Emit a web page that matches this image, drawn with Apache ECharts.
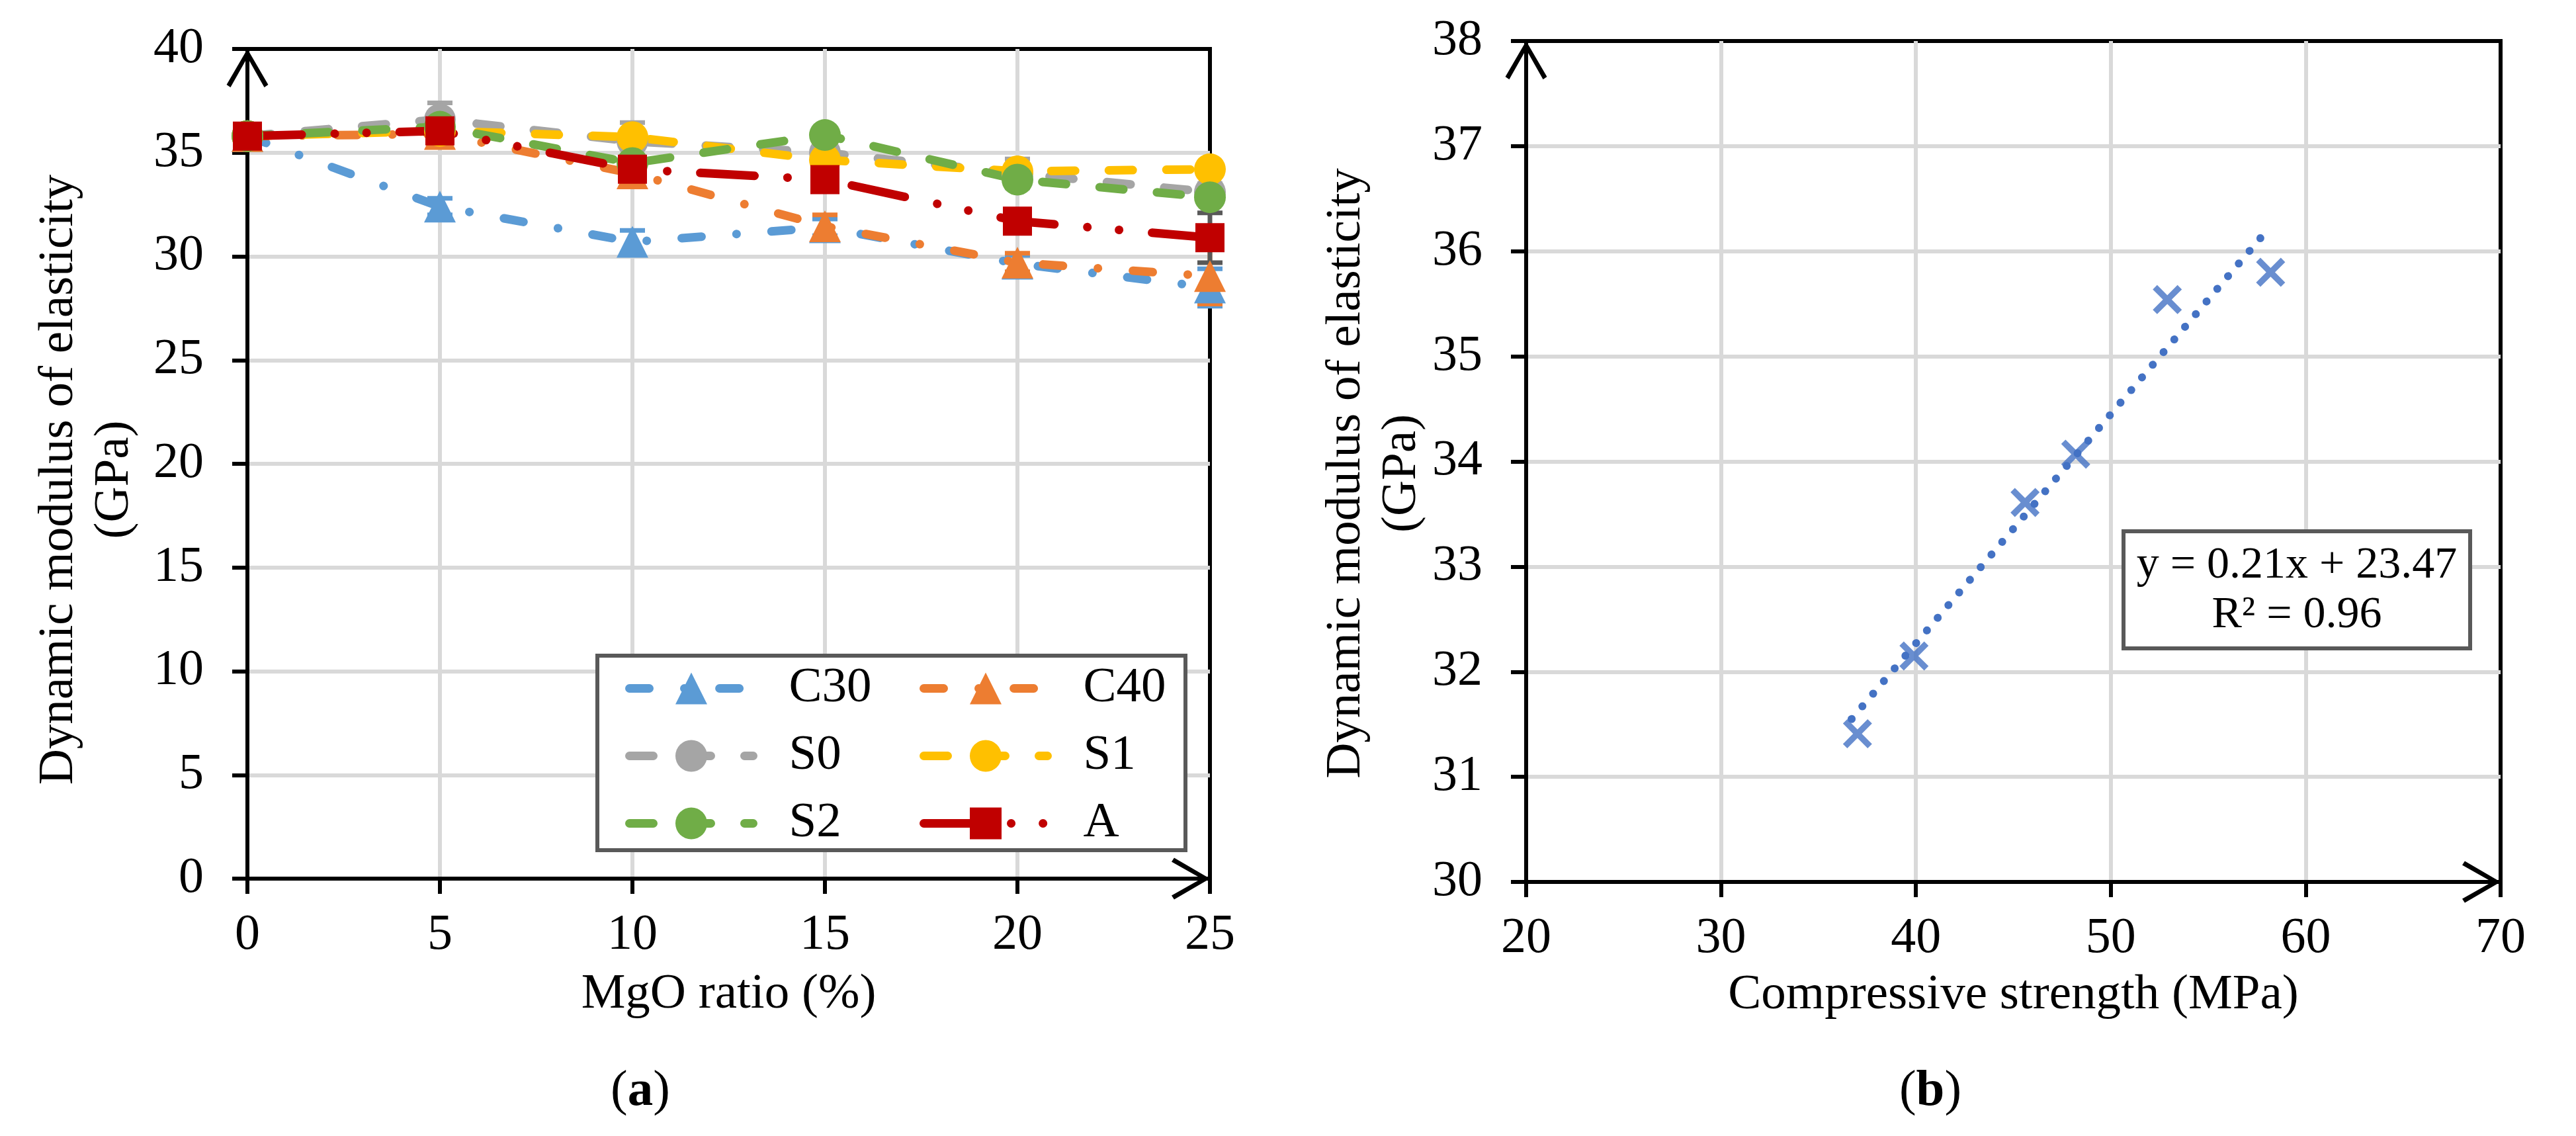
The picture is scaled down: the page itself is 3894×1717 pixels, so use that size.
<!DOCTYPE html>
<html>
<head>
<meta charset="utf-8">
<title>Dynamic modulus of elasticity</title>
<script src="https://cdn.jsdelivr.net/npm/echarts@6/dist/echarts.min.js"></script>
<style>
	html, body { margin: 0; padding: 0; background: #fff; }
	#chart { width: 3894px; height: 1717px; }
</style>
</head>
<body>
<div id="chart"></div>
<script>
// (a) dynamic modulus vs MgO ratio
const mgoRatio = [ 0, 5, 10, 15, 20, 25 ];
const seriesNames = [ 'C30', 'C40', 'S0', 'S1', 'S2', 'A' ];
const c30 = [ 35.8, 32.4, 30.7, 31.4, 29.65, 28.5 ];
const c40 = [ 35.8, 35.9, 34.0, 31.45, 29.7, 29.05 ];
const s0 = [ 35.8, 36.6, 35.55, 35.0, 34.0, 33.1 ];
const s1 = [ 35.8, 36.05, 35.75, 34.65, 34.1, 34.2 ];
const s2 = [ 35.8, 36.25, 34.5, 35.85, 33.7, 32.85 ];
const a = [ 35.8, 36.05, 34.2, 33.7, 31.7, 30.9 ];
// half length of the error bars
const c30Err = [ 0.3, 0.4, 0.55, 0.4, 0.4, 0.9 ];
const c40Err = [ 0.3, 0.3, 0.3, 0.55, 0.45, 1.35 ];
const s0Err = [ 0.3, 0.8, 0.9, 0.5, 0.7, 0.4 ];
const s1Err = [ 0.3, 0.3, 0.3, 0.3, 0.3, 0.3 ];
const s2Err = [ 0.3, 0.3, 0.3, 0.3, 0.3, 0.3 ];
const aErr = [ 0.3, 0.3, 0.3, 0.3, 0.3, 1.2 ];
// legend columns, read top to bottom
const legendLeftCol = [ 'C30', 'S0', 'S2' ];
const legendRightCol = [ 'C40', 'S1', 'A' ];

// (b) dynamic modulus vs compressive strength
const strength = [ 37.0, 39.9, 45.6, 48.2, 52.9, 58.2 ];
const modulus = [ 31.41, 32.15, 33.61, 34.07, 35.54, 35.80 ];
const trendX = [ 36.7, 57.7 ];
const trendY = [ 31.55, 36.13 ];
const trendLabel = 'y = 0.21x + 23.47\nR² = 0.96';

const FONT = '"Liberation Serif", "Times New Roman", serif';
const ARROW = 'path://M32,0 L64,55 L58,59 L32,13 L6,59 L0,55 Z';
const CROSS = 'path://M0,6 L6,0 L20,14 L34,0 L40,6 L26,20 L40,34 L34,40 L20,26 L6,40 L0,34 L14,20 Z';

const figure = {
	chart: null,
	lineDefs: [
		{ values: c30, err: c30Err, color: '#5B9BD5', errColor: '#5B9BD5', symbol: 'triangle', size: 48, dash: [ 30, 53, 0.1, 53 ] },
		{ values: c40, err: c40Err, color: '#ED7D31', errColor: '#ED7D31', symbol: 'triangle', size: 48, dash: [ 30, 53, 0.1, 53 ] },
		{ values: s0, err: s0Err, color: '#A5A5A5', errColor: '#A5A5A5', symbol: 'circle', size: 48, dash: [ 36, 51 ] },
		{ values: s1, err: s1Err, color: '#FFC000', errColor: '#FFC000', symbol: 'circle', size: 48, dash: [ 36, 51 ] },
		{ values: s2, err: s2Err, color: '#70AD47', errColor: '#70AD47', symbol: 'circle', size: 48, dash: [ 36, 51 ] },
		{ values: a, err: aErr, color: '#C00000', errColor: '#595959', symbol: 'rect', size: 44, dash: [ 82, 50, 0.1, 48, 0.1, 50 ] }
	],

	init: function () {
		this.chart = echarts.init( document.getElementById( 'chart' ) );
		this.chart.setOption( this.buildOption() );
	},

	makeAxis: function ( o ) {
		return {
			type: 'value',
			gridIndex: o.grid,
			min: o.min,
			max: o.max,
			interval: o.interval,
			name: o.name,
			nameLocation: 'middle',
			nameGap: o.nameGap,
			nameRotate: o.rotate || 0,
			nameTextStyle: {
				fontFamily: FONT,
				fontSize: 75,
				color: '#000',
				lineHeight: 84,
				padding: o.namePadding || 0
			},
			axisLine: {
				show: true,
				onZero: false,
				symbol: [ 'none', ARROW ],
				symbolSize: [ 63, 58 ],
				symbolOffset: [ 0, -29 ],
				lineStyle: { color: '#000', width: 6 }
			},
			axisTick: { show: true, length: 23, lineStyle: { color: '#000', width: 6 } },
			axisLabel: { margin: o.margin, fontFamily: FONT, fontSize: 76, color: '#000' },
			splitLine: { show: true, showMaxLine: false, lineStyle: { color: '#D9D9D9', width: 6 } }
		};
	},

	makeLegend: function ( names, left ) {
		return {
			data: names,
			orient: 'vertical',
			left: left,
			top: 1003,
			padding: 0,
			itemWidth: 187,
			itemHeight: 60,
			itemGap: 27,
			selectedMode: false,
			lineStyle: { width: 13 },
			textStyle: { fontFamily: FONT, fontSize: 75, color: '#000', padding: [ 0, 0, 0, 49 ] }
		};
	},

	errorBar: function ( params, api ) {
		const x = api.value( 0 );
		const y = api.value( 1 );
		const e = api.value( 2 );
		const top = api.coord( [ x, y + e ] );
		const bot = api.coord( [ x, y - e ] );
		const half = 19;
		const style = { stroke: api.visual( 'color' ), lineWidth: 7 };
		return {
			type: 'group',
			children: [
				{ type: 'line', shape: { x1: top[ 0 ], y1: top[ 1 ], x2: bot[ 0 ], y2: bot[ 1 ] }, style: style },
				{ type: 'line', shape: { x1: top[ 0 ] - half, y1: top[ 1 ], x2: top[ 0 ] + half, y2: top[ 1 ] }, style: style },
				{ type: 'line', shape: { x1: bot[ 0 ] - half, y1: bot[ 1 ], x2: bot[ 0 ] + half, y2: bot[ 1 ] }, style: style }
			]
		};
	},

	buildSeries: function () {
		const series = [];
		this.lineDefs.forEach( ( def, i ) => {
			series.push( {
				name: seriesNames[ i ] + ' error',
				type: 'custom',
				xAxisIndex: 0,
				yAxisIndex: 0,
				z: 1,
				itemStyle: { color: def.errColor },
				renderItem: ( params, api ) => this.errorBar( params, api ),
				data: mgoRatio.map( ( x, k ) => [ x, def.values[ k ], def.err[ k ] ] )
			} );
		} );
		this.lineDefs.forEach( ( def, i ) => {
			series.push( {
				name: seriesNames[ i ],
				type: 'line',
				xAxisIndex: 0,
				yAxisIndex: 0,
				z: 2,
				symbol: def.symbol,
				symbolSize: def.size,
				itemStyle: { color: def.color },
				lineStyle: { color: def.color, width: 13, type: def.dash, cap: 'round' },
				data: mgoRatio.map( ( x, k ) => [ x, def.values[ k ] ] )
			} );
		} );
		series.push( {
			name: 'trend',
			type: 'line',
			xAxisIndex: 1,
			yAxisIndex: 1,
			symbol: 'none',
			z: 2,
			lineStyle: { color: '#4472C4', width: 12, type: [ 0.1, 25 ], cap: 'round' },
			data: trendX.map( ( x, k ) => [ x, trendY[ k ] ] )
		} );
		series.push( {
			name: 'strength',
			type: 'scatter',
			xAxisIndex: 1,
			yAxisIndex: 1,
			z: 3,
			symbol: CROSS,
			symbolSize: 44,
			itemStyle: { color: '#4472C4' },
			data: strength.map( ( x, k ) => [ x, modulus[ k ] ] )
		} );
		return series;
	},

	buildOption: function () {
		const panelLabel = ( letter, x ) => ( {
			type: 'text',
			x: x,
			y: 1650,
			style: {
				text: '{n|(}{b|' + letter + '}{n|)}',
				align: 'center',
				verticalAlign: 'middle',
				rich: {
					n: { fontFamily: FONT, fontSize: 77, fill: '#000' },
					b: { fontFamily: FONT, fontSize: 77, fontWeight: 'bold', fill: '#000' }
				}
			}
		} );
		const yName = 'Dynamic modulus of elasticity\n(GPa)';
		return {
			animation: false,
			backgroundColor: '#fff',
			grid: [
				{ left: 374, top: 74, width: 1455, height: 1254, show: true, borderColor: '#000', borderWidth: 6, backgroundColor: 'transparent' },
				{ left: 2307, top: 62, width: 1473, height: 1271, show: true, borderColor: '#000', borderWidth: 6, backgroundColor: 'transparent' }
			],
			xAxis: [
				this.makeAxis( { grid: 0, min: 0, max: 25, interval: 5, name: 'MgO ratio (%)', nameGap: 133, margin: 48 } ),
				this.makeAxis( { grid: 1, min: 20, max: 70, interval: 10, name: 'Compressive strength (MPa)', nameGap: 125, margin: 48 } )
			],
			yAxis: [
				this.makeAxis( { grid: 0, min: 0, max: 40, interval: 5, name: yName, nameGap: 159, rotate: 90, margin: 66, namePadding: [ 0, 48, 0, 0 ] } ),
				this.makeAxis( { grid: 1, min: 30, max: 38, interval: 1, name: yName, nameGap: 142, rotate: 90, margin: 66, namePadding: [ 0, 36, 0, 0 ] } )
			],
			legend: [
				this.makeLegend( legendLeftCol, 945 ),
				this.makeLegend( legendRightCol, 1390 )
			],
			graphic: [
				{
					type: 'rect',
					z: 3,
					shape: { x: 903, y: 991, width: 889, height: 294 },
					style: { fill: '#fff', stroke: '#595959', lineWidth: 6 }
				},
				{
					type: 'rect',
					z: 10,
					shape: { x: 3210, y: 803, width: 524, height: 177 },
					style: { fill: '#fff', stroke: '#595959', lineWidth: 6 }
				},
				{
					type: 'text',
					z: 11,
					x: 3472,
					y: 893,
					style: {
						text: trendLabel,
						font: '68px ' + FONT,
						lineHeight: 75,
						fill: '#000',
						align: 'center',
						verticalAlign: 'middle'
					}
				},
				panelLabel( 'a', 968 ),
				panelLabel( 'b', 2918 )
			],
			series: this.buildSeries()
		};
	}
};

figure.init();
</script>
</body>
</html>
